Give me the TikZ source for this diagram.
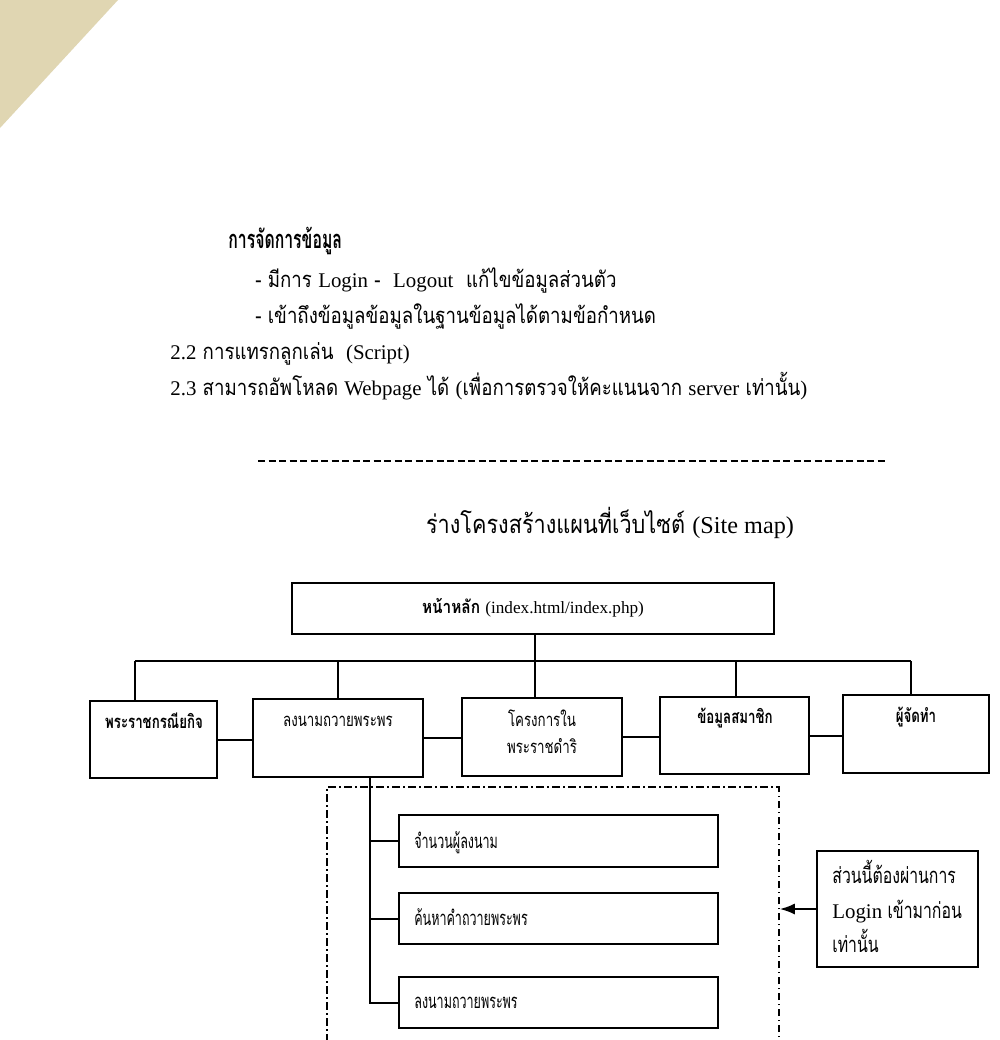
\documentclass[tikz,border=0pt]{standalone}
\usepackage{fontspec}
\setmainfont[Script=Thai,FakeStretch=0.85]{Loma}
\newfontfamily\thn[Script=Thai,FakeStretch=0.72]{Loma}
\newfontfamily\thnn[Script=Thai,FakeStretch=0.62]{Loma}
\newfontfamily\lat[Scale=0.95]{Liberation Serif}
\usetikzlibrary{fit,arrows.meta}
\definecolor{paperedge}{RGB}{224,214,178}
\newcommand{\fsbody}{\fontsize{12.5pt}{15pt}\selectfont}
\newcommand{\fshead}{\thnn\fontsize{14.5pt}{16pt}\selectfont}
\newcommand{\fstitle}{\fontsize{14.5pt}{17pt}\selectfont}
\newcommand{\fsbox}{\thn\fontsize{10.5pt}{12pt}\selectfont}
\newcommand{\fsmain}{\fontsize{10.3pt}{12pt}\selectfont}
\newcommand{\fssub}{\thnn\fontsize{11.5pt}{13pt}\selectfont}
\newcommand{\fslog}{\thn\fontsize{12.5pt}{15pt}\selectfont}
\begin{document}
\begin{tikzpicture}[x=0.2mm,y=-0.2mm,
  every node/.style={inner sep=0pt},
  box/.style={draw, line width=0.4mm, inner sep=0pt, fit={#1}},
  conn/.style={line width=0.4mm},
  txt/.style={anchor=base west, font=\fsbody},
  ctxt/.style={anchor=base, font=\fsbox},
  sepline/.style={line width=0.55mm, dash pattern=on 1.4mm off 0.7mm},
  dashdot/.style={line width=0.3mm, dash pattern=on 1.5mm off 0.7mm on 0.3mm off 0.7mm}]
\useasboundingbox (0,0) rectangle (1000,1040);
\clip (0,0) rectangle (1000,1040);
\fill[white] (0,0) rectangle (1000,1040);
\fill[paperedge] (0,0) -- (118,0) -- (0,128) -- cycle;

% heading text
\node[txt, font=\fshead] (t1) at (228,248) {\bfseries การจัดการข้อมูล};
\node[txt] (t2) at (255,287) {- มีการ {\lat Login} -\ \ {\lat Logout}\ \ แก้ไขข้อมูลส่วนตัว};
\node[txt] (t3) at (255,323) {- เข้าถึงข้อมูลข้อมูลในฐานข้อมูลได้ตามข้อกำหนด};
\node[txt] (t4) at (170,359) {{\lat 2.2}\ การแทรกลูกเล่น\ \ {\lat (Script)}};
\node[txt] (t5) at (170,395) {{\lat 2.3}\ สามารถอัพโหลด {\lat Webpage} ได้ {\lat (}เพื่อการตรวจให้คะแนนจาก {\lat server}\ เท่านั้น{\lat )}};
\coordinate (sl) at (258,461);
\coordinate (sr) at (887,461);
\draw[sepline] (sl) -- (sr);

\node[ctxt, font=\fstitle] (title) at (610,533) {ร่างโครงสร้างแผนที่เว็บไซต์ {\lat (Site map)}};

% boxes
\node[box={(292,583)(774,634)}] (main) {};
\node[ctxt, font=\fsmain] (maint) at (533,613) {\bfseries หน้าหลัก {\lat\mdseries (index.html/index.php)}};

\node[box={(90,701)(217,778)}] (b1) {};
\node[box={(253,699)(423,777)}] (b2) {};
\node[box={(462,698)(622,776)}] (b3) {};
\node[box={(660,697)(809,774)}] (b4) {};
\node[box={(843,695)(989,773)}] (b5) {};

\node[ctxt] (b1t) at (154,728) {\bfseries พระราชกรณียกิจ};
\node[ctxt] (b2t) at (338,726) {ลงนามถวายพระพร};
\node[ctxt] (b3t) at (542,726) {โครงการใน};
\node[ctxt] (b3u) at (542,753) {พระราชดำริ};
\node[ctxt] (b4t) at (735,723) {\bfseries ข้อมูลสมาชิก};
\node[ctxt] (b5t) at (916,722) {\bfseries ผู้จัดทำ};

% tree connectors
\coordinate (bus) at (535,661);
\coordinate (d1) at (135,661);
\coordinate (d2) at (338,661);
\coordinate (d4) at (736,661);
\coordinate (d5) at (911,661);
\draw[conn] (main.south -| bus) -- (bus);
\draw[conn] (d1) -- (d5);
\draw[conn] (d1) -- (d1 |- b1.north);
\draw[conn] (d2) -- (d2 |- b2.north);
\draw[conn] (bus) -- (bus |- b3.north);
\draw[conn] (d4) -- (d4 |- b4.north);
\draw[conn] (d5) -- (d5 |- b5.north);
\draw[conn] (b1.east) -- (b2.west |- b1.east);
\draw[conn] (b2.east) -- (b3.west |- b2.east);
\draw[conn] (b3.east) -- (b4.west |- b3.east);
\draw[conn] (b4.east) -- (b5.west |- b4.east);

% login-only area
\node[dashdot, draw, fit={(327,787)(779,1060)}, inner sep=0pt] (area) {};
\node[box={(399,815)(718,867)}] (sa) {};
\node[box={(399,893)(718,944)}] (sb) {};
\node[box={(399,977)(718,1028)}] (sc) {};
\node[txt, font=\fssub] (sat) at (414,848) {จำนวนผู้ลงนาม};
\node[txt, font=\fssub] (sbt) at (414,925) {ค้นหาคำถวายพระพร};
\node[txt, font=\fssub] (sct) at (414,1008) {ลงนามถวายพระพร};

\coordinate (v) at (370,777);
\draw[conn] (v) -- (v |- sc.west) -- (sc.west);
\draw[conn] (v |- sa.west) -- (sa.west);
\draw[conn] (v |- sb.west) -- (sb.west);

\node[box={(817,851)(978,967)}] (login) {};
\node[txt, font=\fslog] (l1) at (832,883) {ส่วนนี้ต้องผ่านการ};
\node[txt, font=\fslog] (l2) at (832,918) {{\lat Login} เข้ามาก่อน};
\node[txt, font=\fslog] (l3) at (832,952) {เท่านั้น};
\draw[conn, -{Latex[length=3mm,width=2.2mm]}] (login.west) -- (login.west -| area.east);
\end{tikzpicture}
\end{document}
